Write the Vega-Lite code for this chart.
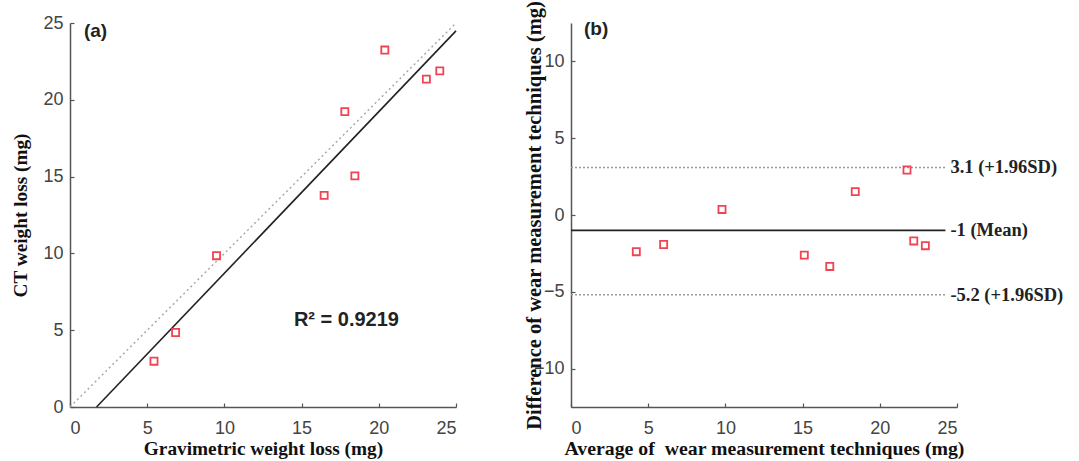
{
  "$schema": "https://vega.github.io/schema/vega-lite/v6.json",
  "padding": {"left": 11, "top": 0, "right": 0, "bottom": 0},
  "background": "white",
  "bounds": "flush",
  "spacing": 115,
  "config": {
    "view": {"stroke": null},
    "axis": {
      "grid": false,
      "domainColor": "#555",
      "domainWidth": 1.5,
      "tickColor": "#555",
      "tickWidth": 1.2,
      "tickSize": -4,
      "labelFont": "Liberation Sans",
      "labelFontSize": 18,
      "labelColor": "#444",
      "titleFont": "Liberation Serif",
      "titleFontWeight": "bold",
      "titleFontSize": 19.3,
      "titleColor": "#111"
    }
  },
  "datasets": {
    "scatter": [
      {"grav": 5.44, "ct": 2.98},
      {"grav": 6.84, "ct": 4.85},
      {"grav": 9.49, "ct": 9.85},
      {"grav": 16.46, "ct": 13.78},
      {"grav": 17.8, "ct": 19.23},
      {"grav": 18.45, "ct": 15.05},
      {"grav": 20.39, "ct": 23.24},
      {"grav": 23.08, "ct": 21.35},
      {"grav": 23.95, "ct": 21.88}
    ],
    "ba": [
      {"avg": 4.23, "diff": -2.39},
      {"avg": 6.0, "diff": -1.92},
      {"avg": 9.78, "diff": 0.36},
      {"avg": 15.11, "diff": -2.61},
      {"avg": 16.76, "diff": -3.35},
      {"avg": 18.41, "diff": 1.52},
      {"avg": 21.76, "diff": 2.93},
      {"avg": 22.2, "diff": -1.69},
      {"avg": 22.95, "diff": -2.0}
    ]
  },
  "hconcat": [
    {
      "width": 386,
      "height": 384,
      "layer": [
        {
          "data": {"values": [{"x": 0, "y": 0, "x2": 25, "y2": 25}]},
          "mark": {"type": "rule", "color": "#aaa", "strokeWidth": 1.5, "strokeDash": [2, 3]},
          "encoding": {
            "x": {"field": "x", "type": "quantitative", "scale": {"domain": [0, 25], "nice": false},
              "axis": {"title": "Gravimetric weight loss (mg)", "values": [0, 5, 10, 15, 20, 25], "labelPadding": 16, "titlePadding": 2}},
            "y": {"field": "y", "type": "quantitative", "scale": {"domain": [0, 25], "nice": false},
              "axis": {"title": "CT weight loss (mg)", "values": [0, 5, 10, 15, 20, 25], "labelPadding": 11, "titlePadding": 12}},
            "x2": {"field": "x2"},
            "y2": {"field": "y2"}
          }
        },
        {
          "data": {"values": [{"x": 1.72, "y": 0, "x2": 25, "y2": 24.49}]},
          "mark": {"type": "rule", "color": "#222", "strokeWidth": 1.6},
          "encoding": {
            "x": {"field": "x", "type": "quantitative"},
            "y": {"field": "y", "type": "quantitative"},
            "x2": {"field": "x2"},
            "y2": {"field": "y2"}
          }
        },
        {
          "data": {"name": "scatter"},
          "mark": {"type": "point", "shape": "square", "filled": false, "color": "#f04452", "size": 50, "strokeWidth": 1.8, "opacity": 1},
          "encoding": {
            "x": {"field": "grav", "type": "quantitative"},
            "y": {"field": "ct", "type": "quantitative"}
          }
        },
        {
          "data": {"values": [{"x": 0.9, "y": 24.5, "label": "(a)"}]},
          "mark": {"type": "text", "align": "left", "baseline": "middle", "font": "Liberation Sans", "fontWeight": "bold", "fontSize": 19, "color": "#222"},
          "encoding": {
            "x": {"field": "x", "type": "quantitative"},
            "y": {"field": "y", "type": "quantitative"},
            "text": {"field": "label"}
          }
        },
        {
          "data": {"values": [{"x": 14.5, "y": 5.69, "label": "R² = 0.9219"}]},
          "mark": {"type": "text", "align": "left", "baseline": "middle", "font": "Liberation Sans", "fontWeight": "bold", "fontSize": 20, "color": "#222"},
          "encoding": {
            "x": {"field": "x", "type": "quantitative"},
            "y": {"field": "y", "type": "quantitative"},
            "text": {"field": "label"}
          }
        }
      ]
    },
    {
      "width": 386,
      "height": 384,
      "layer": [
        {
          "data": {"values": [{"x": 0, "x2": 24.25, "y": 3.1}, {"x": 0, "x2": 24.25, "y": -5.2}]},
          "mark": {"type": "rule", "color": "#999", "strokeWidth": 1.5, "strokeDash": [2, 2]},
          "encoding": {
            "x": {"field": "x", "type": "quantitative", "scale": {"domain": [0, 25], "nice": false},
              "axis": {"title": "Average of\u00a0 wear measurement techniques (mg)", "titleFontSize": 19.8, "values": [0, 5, 10, 15, 20, 25], "labelPadding": 16, "titlePadding": 1}},
            "y": {"field": "y", "type": "quantitative", "scale": {"domain": [-12.5, 12.5], "nice": false},
              "axis": {"title": "Difference of wear measurement techniques (mg)", "titleFontSize": 20.5, "values": [-10, -5, 0, 5, 10], "labelPadding": 11, "titlePadding": -11}},
            "x2": {"field": "x2"}
          }
        },
        {
          "data": {"values": [{"x": 0, "x2": 24.25, "y": -1}]},
          "mark": {"type": "rule", "color": "#222", "strokeWidth": 1.6},
          "encoding": {
            "x": {"field": "x", "type": "quantitative"},
            "y": {"field": "y", "type": "quantitative"},
            "x2": {"field": "x2"}
          }
        },
        {
          "data": {"name": "ba"},
          "mark": {"type": "point", "shape": "square", "filled": false, "color": "#f04452", "size": 50, "strokeWidth": 1.8, "opacity": 1},
          "encoding": {
            "x": {"field": "avg", "type": "quantitative"},
            "y": {"field": "diff", "type": "quantitative"}
          }
        },
        {
          "data": {"values": [
            {"x": 24.25, "y": 3.1, "label": "3.1 (+1.96SD)"},
            {"x": 24.25, "y": -1, "label": "-1 (Mean)"},
            {"x": 24.25, "y": -5.2, "label": "-5.2 (+1.96SD)"}
          ]},
          "mark": {"type": "text", "align": "left", "baseline": "middle", "dx": 5, "font": "Liberation Serif", "fontWeight": "bold", "fontSize": 18.5, "color": "#222"},
          "encoding": {
            "x": {"field": "x", "type": "quantitative"},
            "y": {"field": "y", "type": "quantitative"},
            "text": {"field": "label"}
          }
        },
        {
          "data": {"values": [{"x": 0.84, "y": 12.1, "label": "(b)"}]},
          "mark": {"type": "text", "align": "left", "baseline": "middle", "font": "Liberation Sans", "fontWeight": "bold", "fontSize": 19, "color": "#222"},
          "encoding": {
            "x": {"field": "x", "type": "quantitative"},
            "y": {"field": "y", "type": "quantitative"},
            "text": {"field": "label"}
          }
        }
      ]
    }
  ]
}
